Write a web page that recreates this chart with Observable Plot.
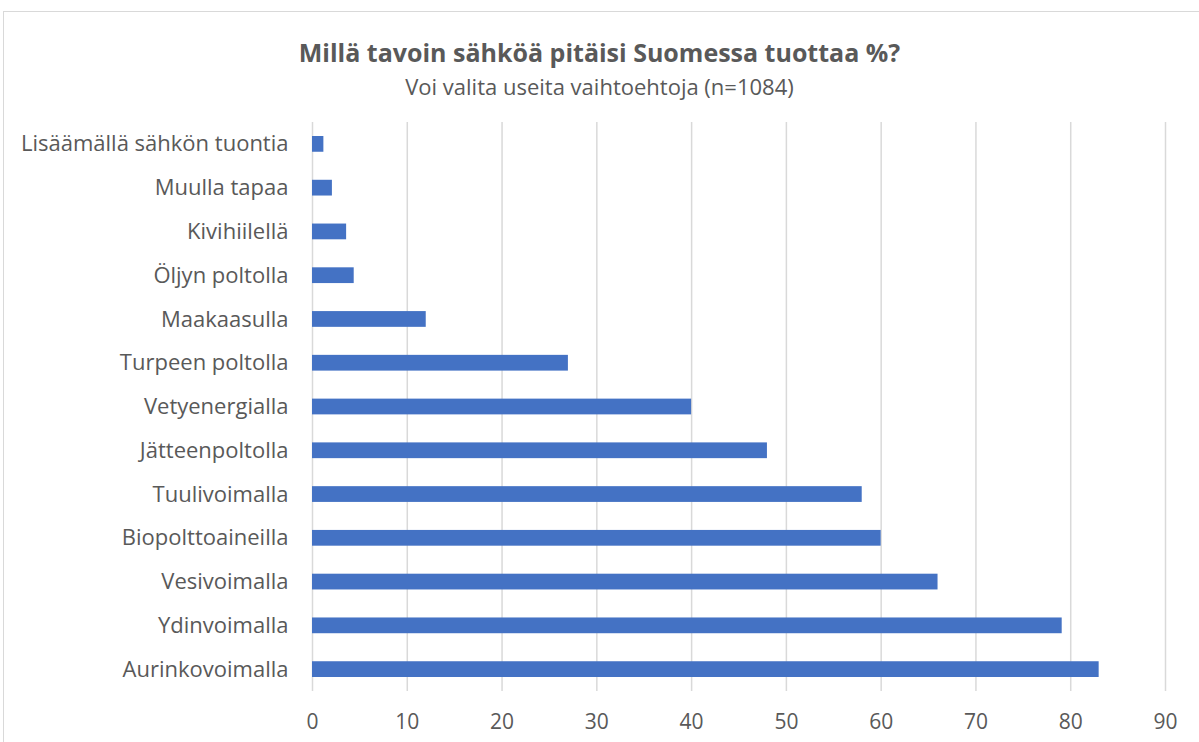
<!DOCTYPE html>
<html>
<head>
<meta charset="utf-8">
<script src="https://cdn.jsdelivr.net/npm/d3@7"></script>
<script src="https://cdn.jsdelivr.net/npm/@observablehq/plot@0.6"></script>
<style>
  html, body { margin: 0; padding: 0; background: #fff; }
  body { width: 1199px; height: 742px; overflow: hidden; position: relative; font-family: "Open Sans", "Liberation Sans", Arial, sans-serif; }
  #frame { position: absolute; left: 3px; top: 11px; width: 1300px; height: 800px; border: 1px solid #d9d9d9; box-sizing: border-box; }
  #title { position: absolute; top: 35px; left: 0; width: 1199px; text-align: center; font-size: 25px; line-height: 34px; font-weight: bold; color: #595959; }
  #subtitle { position: absolute; top: 71px; left: 0; width: 1199px; text-align: center; font-size: 22px; line-height: 30px; color: #595959; }
  #chart { position: absolute; top: 100px; left: 0; }
</style>
</head>
<body>
<div id="frame"></div>
<div id="title">Millä tavoin sähköä pitäisi Suomessa tuottaa %?</div>
<div id="subtitle">Voi valita useita vaihtoehtoja (n=1084)</div>
<div id="chart"></div>
<script>
const categories = [
  "Lisäämällä sähkön tuontia",
  "Muulla tapaa",
  "Kivihiilellä",
  "Öljyn poltolla",
  "Maakaasulla",
  "Turpeen poltolla",
  "Vetyenergialla",
  "Jätteenpoltolla",
  "Tuulivoimalla",
  "Biopolttoaineilla",
  "Vesivoimalla",
  "Ydinvoimalla",
  "Aurinkovoimalla"
];
const values = [1.2, 2.1, 3.6, 4.4, 12.0, 27.0, 40.0, 48.0, 58.0, 60.0, 66.0, 79.1, 83.0];
const xTicks = [0, 10, 20, 30, 40, 50, 60, 70, 80, 90];

const data = categories.map((c, i) => ({category: c, value: values[i]}));

const chart = Plot.plot({
  width: 1199,
  height: 642,
  marginLeft: 312,
  marginRight: 34,
  marginTop: 22,
  marginBottom: 51,
  style: { fontFamily: "'Open Sans', 'Liberation Sans', Arial, sans-serif", fontSize: "22px", color: "#595959", background: "transparent" },
  x: { domain: [0, 90], ticks: xTicks, label: null },
  y: { domain: categories, label: null, paddingInner: 0.64, paddingOuter: 0.32, round: false },
  marks: [
    Plot.gridX(xTicks, { stroke: "#d9d9d9", strokeOpacity: 1, strokeWidth: 1.5 }),
    Plot.barX(data, { x: "value", y: "category", fill: "#4472c4" }),
    Plot.axisX({ ticks: xTicks, tickSize: 0, tickPadding: 23, label: null, fontSize: 21 }),
    Plot.axisY({ tickSize: 0, tickPadding: 24, label: null, fontSize: 22 })
  ]
});
document.getElementById("chart").appendChild(chart);
</script>
</body>
</html>
